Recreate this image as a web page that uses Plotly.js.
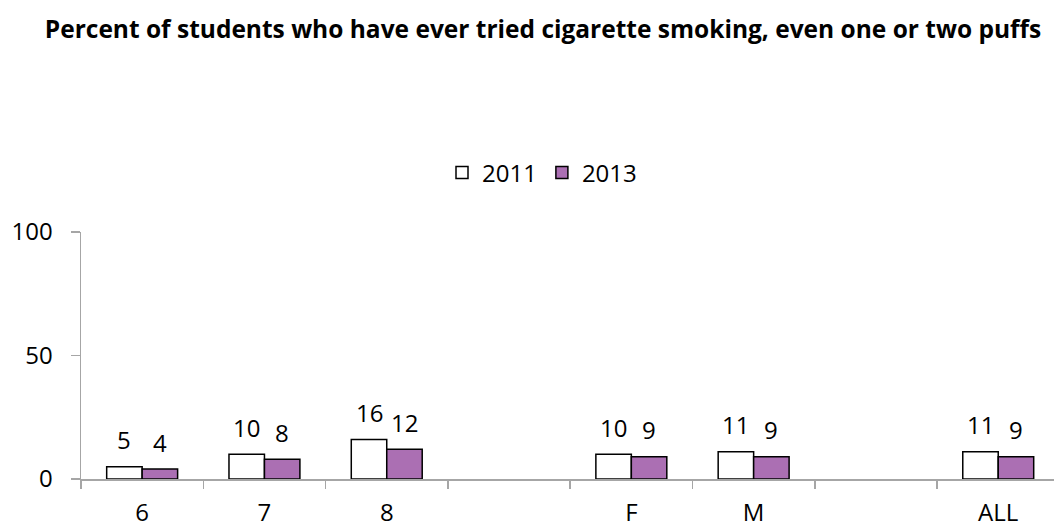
<!DOCTYPE html>
<html>
<head>
<meta charset="utf-8">
<script src="https://cdn.plot.ly/plotly-3.0.1.min.js"></script>
<style>html,body{margin:0;padding:0;background:#fff;overflow:hidden}</style>
</head>
<body>
<div id="chart" style="width:1054px;height:529px"></div>
<script>
const categories = ["6", "7", "8", " ", "F", "M", "  ", "ALL"];
const values2011 = [5, 10, 16, null, 10, 11, null, 11];
const values2013 = [4, 8, 12, null, 9, 9, null, 9];
const seriesNames = ["2011", "2013"];
const yTicks = [0, 50, 100];

const FONT = "Open Sans, Noto Sans, sans-serif";
const axisColor = "#A6A6A6";

const traces = [
  {type: "bar", name: seriesNames[0], x: categories, y: values2011,
   marker: {color: "#FFFFFF", line: {color: "#000000", width: 1.5}}, hoverinfo: "none"},
  {type: "bar", name: seriesNames[1], x: categories, y: values2013,
   marker: {color: "#AB6FB3", line: {color: "#000000", width: 1.5}}, hoverinfo: "none"}
];

const annotations = [];
const barHalf = 17.7;
[values2011, values2013].forEach((vals, s) => {
  vals.forEach((v, i) => {
    if (v === null) return;
    annotations.push({
      x: i, y: v, xref: "x", yref: "y",
      text: String(v), showarrow: false,
      xshift: s === 0 ? -barHalf : barHalf, yshift: 27,
      yanchor: "middle", xanchor: "center",
      font: {family: FONT, size: 24, color: "#000"}
    });
  });
});

const layout = {
  width: 1054, height: 529,
  margin: {l: 81, r: 0, t: 232, b: 50, pad: 0},
  paper_bgcolor: "#fff", plot_bgcolor: "#fff",
  font: {family: FONT, color: "#000"},
  title: {
    text: "<b>Percent of students who have ever tried cigarette smoking, even one or two puffs</b>",
    font: {family: FONT, size: 24.5, color: "#000"},
    xref: "container", yref: "container",
    x: 543/1054, xanchor: "center", y: 1 - 29/529, yanchor: "middle"
  },
  barmode: "group", bargap: 0.42, bargroupgap: 0,
  showlegend: true,
  legend: {
    orientation: "h", xref: "container", yref: "container",
    x: 542/1054, xanchor: "center", y: 1 - 173/529, yanchor: "middle",
    font: {family: FONT, size: 24, color: "#000"},
    itemwidth: 30, tracegroupgap: 0
  },
  xaxis: {
    type: "category", range: [-0.5, 7.456],
    showline: true, linecolor: axisColor, linewidth: 1.5,
    ticks: "outside", tickson: "boundaries", ticklen: 8, tickcolor: axisColor, tickwidth: 1.5,
    showgrid: false, zeroline: false,
    tickfont: {family: FONT, size: 24, color: "#000"},
    ticklabelstandoff: 12, fixedrange: true
  },
  yaxis: {
    range: [0, 100], tickvals: yTicks,
    showline: true, linecolor: axisColor, linewidth: 1.5,
    ticks: "outside", ticklen: 9, tickcolor: axisColor, tickwidth: 1.5,
    showgrid: false, zeroline: false,
    tickfont: {family: FONT, size: 24, color: "#000"},
    ticklabelstandoff: 13, fixedrange: true
  },
  annotations: annotations
};

Plotly.newPlot("chart", traces, layout, {displayModeBar: false, staticPlot: true});
</script>
</body>
</html>
